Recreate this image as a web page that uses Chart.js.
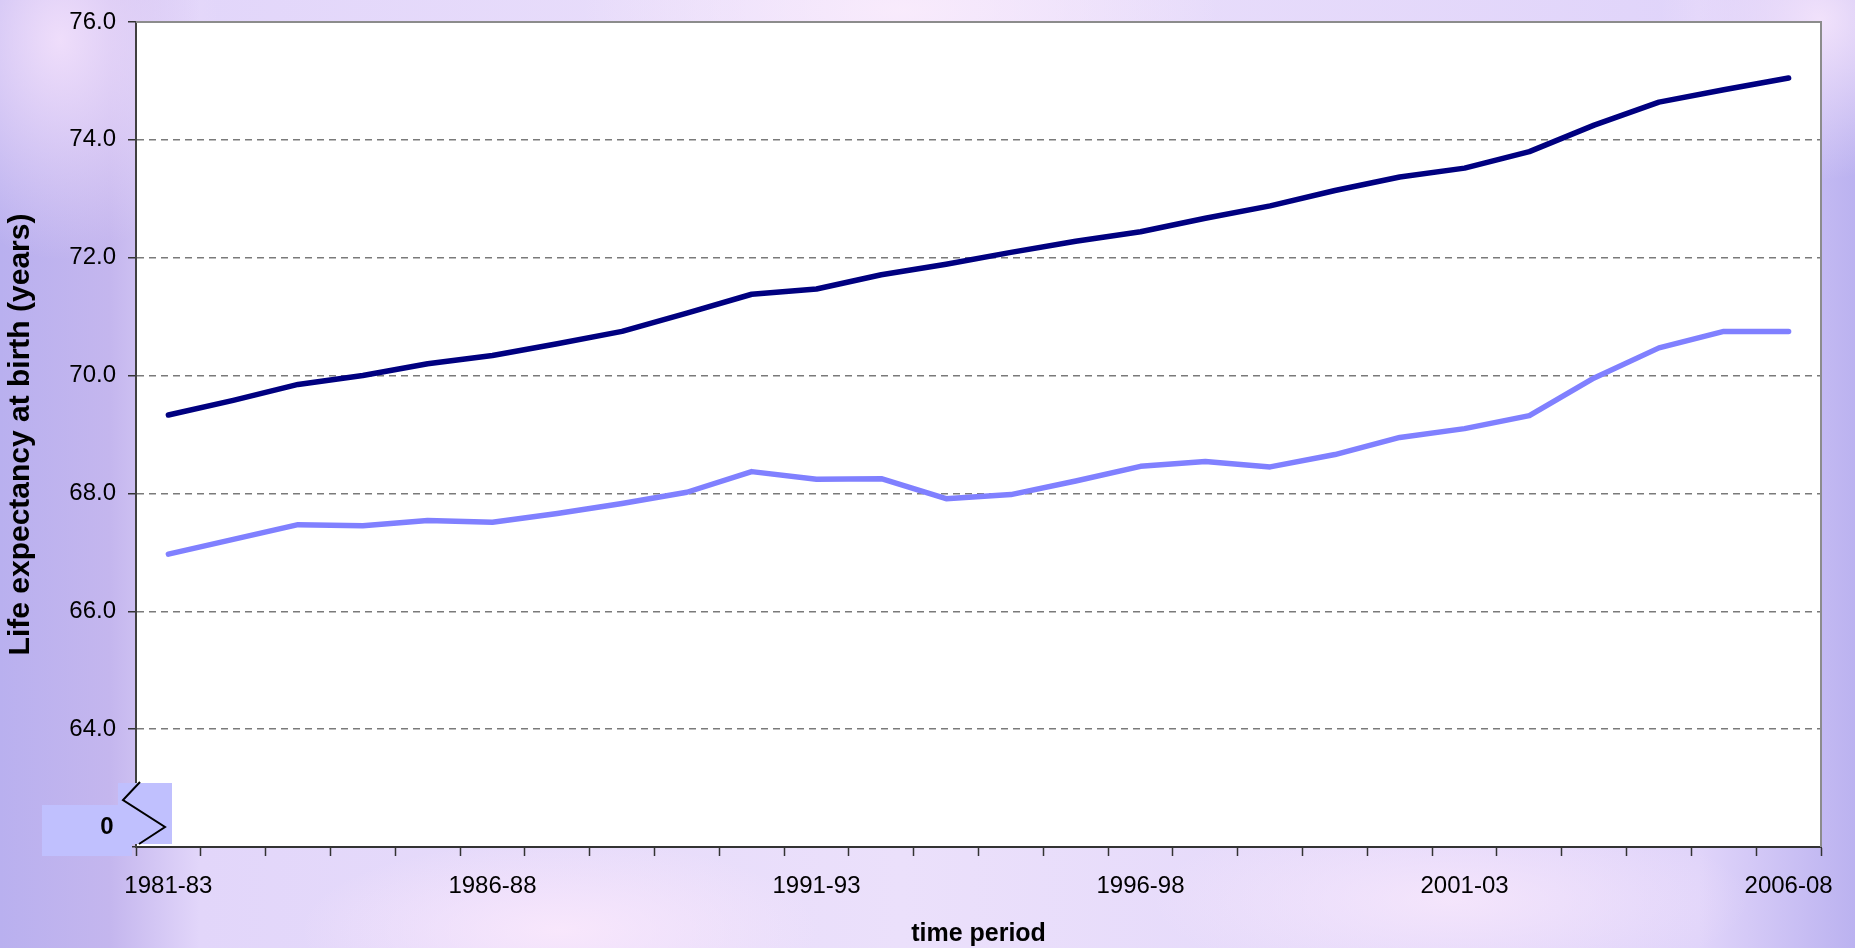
<!DOCTYPE html>
<html>
<head>
<meta charset="utf-8">
<title>Life expectancy at birth</title>
<script src="https://cdn.jsdelivr.net/npm/chart.js@4.4.1/dist/chart.umd.min.js"></script>
<style>
  html, body { margin: 0; padding: 0; }
  body {
    width: 1855px; height: 948px; overflow: hidden;
    background:
      radial-gradient(ellipse 320px 120px at 900px 10px, rgba(250,236,252,0.9), rgba(250,236,252,0) 100%),
      radial-gradient(ellipse 260px 90px at 560px 930px, rgba(250,232,252,0.9), rgba(250,232,252,0) 100%),
      radial-gradient(ellipse 300px 90px at 1450px 900px, rgba(248,232,252,0.8), rgba(248,232,252,0) 100%),
      radial-gradient(ellipse 160px 220px at 60px 40px, rgba(244,226,252,0.9), rgba(244,226,252,0) 100%),
      radial-gradient(ellipse 160px 160px at 1820px 20px, rgba(246,230,252,0.9), rgba(246,230,252,0) 100%),
      linear-gradient(to right, #b9b0ef 0px, #c4b6ee 110px, #e2d6fa 200px, #ebe0fb 900px, #e0d4fa 1700px, #bbb2f0 1855px);
    font-family: "Liberation Sans", Arial, sans-serif;
  }
  #wrap { position: relative; width: 1855px; height: 948px; }
</style>
</head>
<body>
<div id="wrap"><canvas id="lifeChart"></canvas></div>
<script>
var periods = ['1981-83', '1982-84', '1983-85', '1984-86', '1985-87', '1986-88', '1987-89',
  '1988-90', '1989-91', '1990-92', '1991-93', '1992-94', '1993-95', '1994-96', '1995-97',
  '1996-98', '1997-99', '1998-00', '1999-01', '2000-02', '2001-03', '2002-04', '2003-05',
  '2004-06', '2005-07', '2006-08'];

// dark line (upper)
var upperLine = [69.33, 69.58, 69.85, 70.00, 70.20, 70.34, 70.54, 70.75, 71.06, 71.38, 71.47,
  71.71, 71.89, 72.09, 72.28, 72.44, 72.67, 72.88, 73.14, 73.37, 73.52, 73.80, 74.25, 74.64,
  74.85, 75.05];

// light line (lower)
var lowerLine = [66.97, 67.22, 67.47, 67.45, 67.54, 67.51, 67.66, 67.83, 68.02, 68.37, 68.24,
  68.25, 67.91, 67.98, 68.21, 68.46, 68.54, 68.45, 68.66, 68.95, 69.10, 69.32, 69.96, 70.47,
  70.75, 70.75];

var yMin = 62, yMax = 76, yStep = 2;
var labelEvery = 5;

// white plot area + grey top/right frame + the axis break box
var plotFrame = {
  id: 'plotFrame',
  beforeDraw: function(chart) {
    var a = chart.chartArea, ctx = chart.ctx;
    ctx.save();
    ctx.fillStyle = '#ffffff';
    ctx.fillRect(a.left, a.top, a.right - a.left, a.bottom - a.top);
    ctx.restore();
  },
  afterDraw: function(chart) {
    var a = chart.chartArea, ctx = chart.ctx;
    ctx.save();
    ctx.strokeStyle = '#8c8c8c';
    ctx.lineWidth = 2;
    ctx.beginPath();
    ctx.moveTo(a.left, a.top);
    ctx.lineTo(a.right, a.top);
    ctx.lineTo(a.right, a.bottom);
    ctx.stroke();

    // break marker on the value axis
    var l = a.left, b = a.bottom;
    ctx.fillStyle = '#c0c0fe';
    ctx.fillRect(l - 94, b - 42, 90, 51);
    ctx.fillRect(l - 18, b - 64, 54, 61);
    ctx.strokeStyle = '#000000';
    ctx.lineWidth = 2;
    ctx.beginPath();
    ctx.moveTo(l + 4, b - 65);
    ctx.lineTo(l - 13, b - 47);
    ctx.lineTo(l + 29, b - 20);
    ctx.lineTo(l + 3, b - 3);
    ctx.stroke();
    ctx.fillStyle = '#000000';
    ctx.font = 'bold 24px "Liberation Sans", Arial, sans-serif';
    ctx.textAlign = 'center';
    ctx.textBaseline = 'middle';
    ctx.fillText('0', l - 29, b - 20);
    ctx.restore();
  }
};

var ctx = document.getElementById('lifeChart').getContext('2d');
var lifeChart = new Chart(ctx, {
  type: 'line',
  data: {
    labels: periods,
    datasets: [{
      label: 'upper',
      data: upperLine,
      borderColor: '#000080',
      borderWidth: 5.5,
      borderCapStyle: 'round',
      borderJoinStyle: 'round',
      pointRadius: 0,
      tension: 0,
      fill: false
    }, {
      label: 'lower',
      data: lowerLine,
      borderColor: '#8080ff',
      borderWidth: 5.5,
      borderCapStyle: 'round',
      borderJoinStyle: 'round',
      pointRadius: 0,
      tension: 0,
      fill: false
    }]
  },
  options: {
    responsive: true,
    maintainAspectRatio: false,
    animation: false,
    layout: { padding: { left: 0, top: 22, right: 34, bottom: 0 } },
    plugins: {
      legend: { display: false },
      tooltip: { enabled: false }
    },
    scales: {
      x: {
        offset: true,
        border: { display: true, color: '#333333', width: 2 },
        grid: {
          offset: true,
          drawOnChartArea: false,
          drawTicks: true,
          tickLength: 9,
          tickColor: '#333333',
          tickWidth: 1.5
        },
        ticks: {
          autoSkip: false,
          maxRotation: 0,
          padding: 16,
          color: '#000000',
          font: { family: '"Liberation Sans", Arial, sans-serif', size: 24 },
          callback: function(value, index) {
            return index % labelEvery === 0 ? periods[index] : '';
          }
        },
        title: {
          display: true,
          text: 'time period',
          color: '#000000',
          font: { family: '"Liberation Sans", Arial, sans-serif', size: 25, weight: 'bold', lineHeight: 1.12 },
          padding: { top: 0, bottom: 0 }
        },
        afterFit: function(scale) { scale.height = 101; }
      },
      y: {
        min: yMin,
        max: yMax,
        border: { display: true, color: '#404040', width: 2, dash: [7, 5] },
        grid: {
          drawTicks: true,
          tickLength: 8,
          tickColor: '#333333',
          tickWidth: 1.5,
          tickBorderDash: [],
          lineWidth: 1.5,
          color: function(c) {
            if (c.tick && (c.tick.value === yMin || c.tick.value === yMax)) return 'rgba(0,0,0,0)';
            return '#7a7a7a';
          }
        },
        ticks: {
          stepSize: yStep,
          padding: 12,
          color: '#000000',
          font: { family: '"Liberation Sans", Arial, sans-serif', size: 24, lineHeight: 0.8 },
          callback: function(value) {
            return value === yMin ? '' : value.toFixed(1);
          }
        },
        title: {
          display: true,
          text: 'Life expectancy at birth (years)',
          color: '#000000',
          font: { family: '"Liberation Sans", Arial, sans-serif', size: 30, weight: 'bold' },
          padding: { top: 3, bottom: 0 }
        },
        afterFit: function(scale) { scale.width = 136; }
      }
    }
  },
  plugins: [plotFrame]
});
</script>
</body>
</html>
